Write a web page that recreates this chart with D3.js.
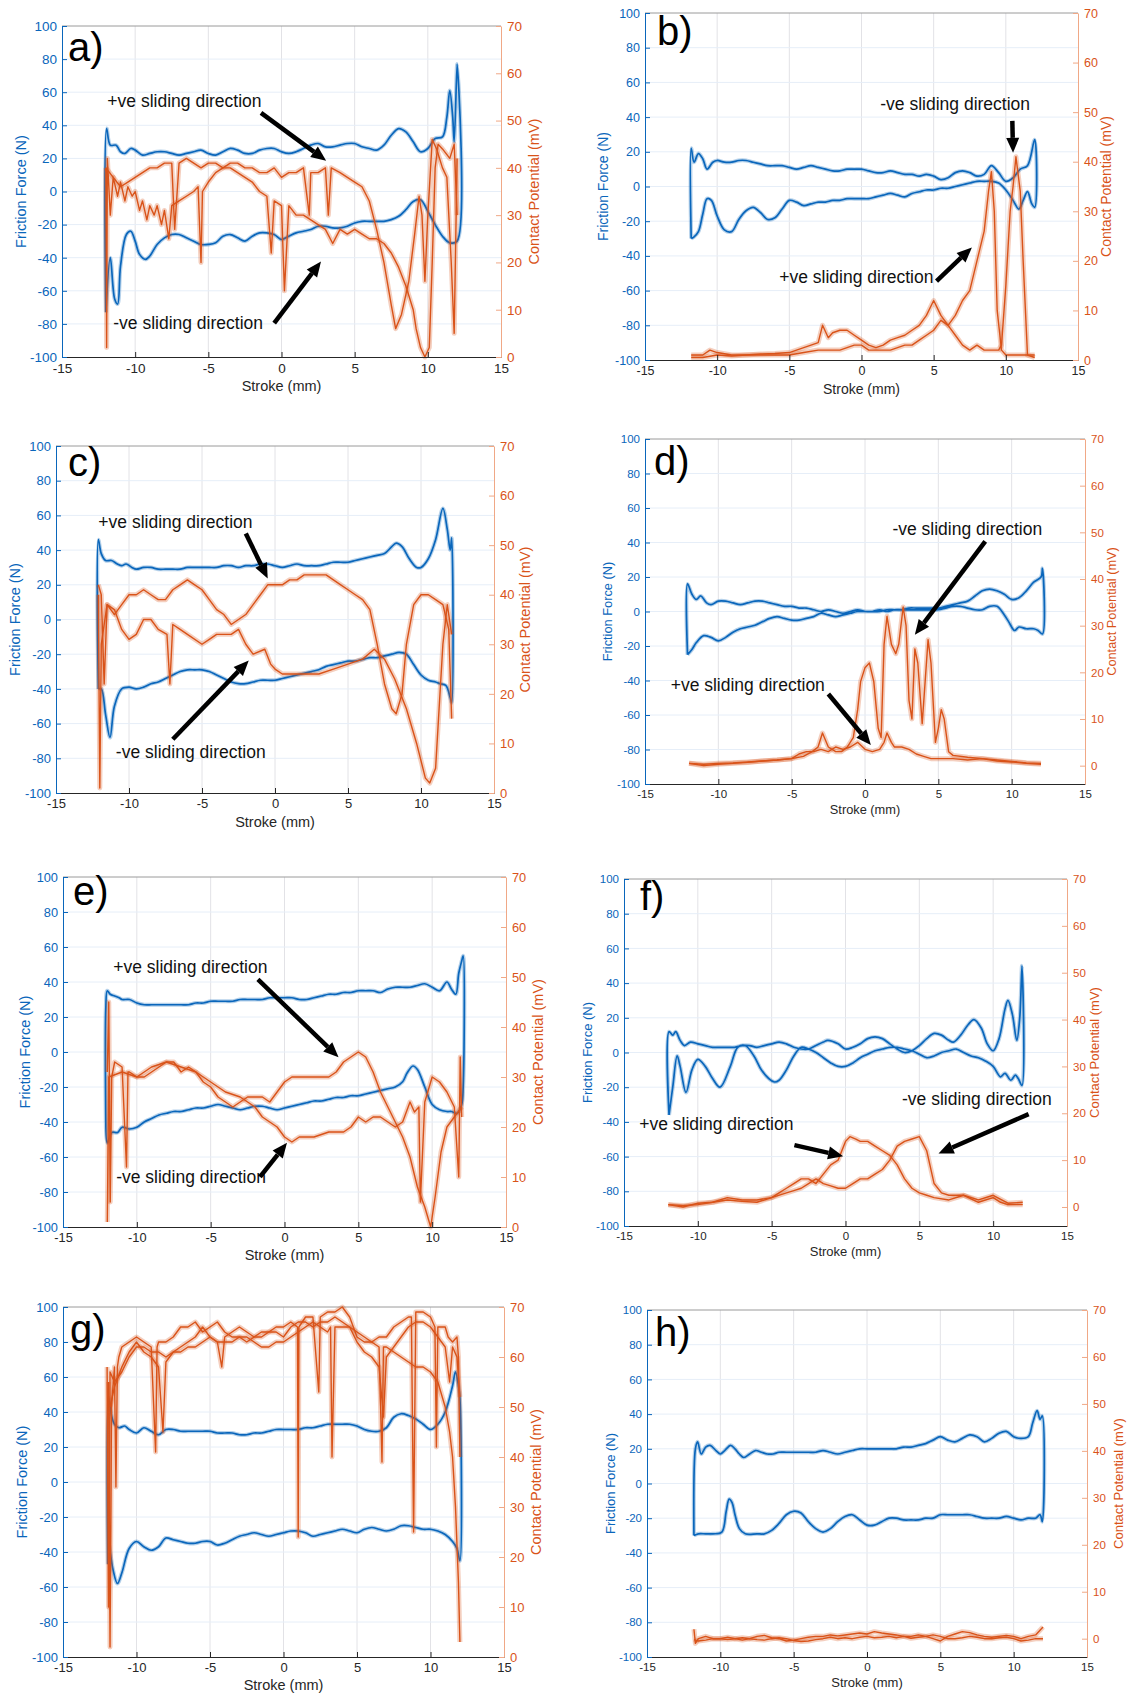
<!DOCTYPE html>
<html>
<head>
<meta charset="utf-8">
<script src="https://d3js.org/d3.v7.min.js"></script>
<style>
  body { margin: 0; background: #fff; }
  svg { display: block; font-family: 'Liberation Sans', Arial, Helvetica, sans-serif; }
</style>
</head>
<body>
<script>
// ---- shared ticks ----
const strokeTicks = [-15, -10, -5, 0, 5, 10, 15];
const forceTicks = [-100, -80, -60, -40, -20, 0, 20, 40, 60, 80, 100];
const potentialTicks = [0, 10, 20, 30, 40, 50, 60, 70];

// ---- a) ----  [stroke mm, friction N] / [stroke mm, potential mV]
const aForceFwd = [[-12,-73],[-11.95,38],[-11.7,28],[-11.3,28],[-11,24],[-10.7,23],[-10.3,26],[-10,25],[-9.5,22],[-9,23],[-8.5,24],[-8,24],[-7.5,23],[-7,22],[-6.5,23],[-6,24],[-5.5,25],[-5,23],[-4.5,22],[-4,24],[-3.5,26],[-3,25],[-2.5,23],[-2,23],[-1.5,25],[-1,26],[-0.5,26],[0,24],[0.5,23],[1,24],[1.5,26],[2,28],[2.5,29],[3,27],[3.5,27],[4,28],[4.5,29],[5,29],[5.5,27],[6,26],[6.5,25],[7,28],[7.5,34],[8,38],[8.5,36],[9,30],[9.5,24],[10,26],[10.5,32],[11,33],[11.3,45],[11.5,61],[11.7,45],[11.8,30],[12,77]];
const aForceBack = [[12,-30],[11.5,-31],[11,-27],[10.5,-20],[10,-12],[9.5,-5],[9,-6],[8.5,-11],[8,-15],[7.5,-17],[7,-18],[6.5,-18],[6,-18],[5.5,-18],[5,-19],[4.5,-21],[4,-22],[3.5,-22],[3,-21],[2.5,-21],[2,-23],[1.5,-24],[1,-25],[0.5,-27],[0,-29],[-0.5,-26],[-1,-25],[-1.5,-25],[-2,-27],[-2.5,-30],[-3,-28],[-3.5,-26],[-4,-27],[-4.5,-31],[-5,-32],[-5.5,-32],[-6,-30],[-6.5,-28],[-7,-26],[-7.5,-26],[-8,-28],[-8.5,-32],[-9,-39],[-9.3,-41],[-9.7,-38],[-10,-30],[-10.3,-24],[-10.6,-26],[-11,-45],[-11.2,-68],[-11.4,-65],[-11.7,-40],[-12,-73]];
const aPotFwd = [[-12,40],[-11.95,2],[-11.9,42],[-11.7,30],[-11.5,38],[-11.2,34],[-11,37],[-10.7,33],[-10.5,36],[-10.2,34],[-10,35],[-9.7,31],[-9.5,33],[-9.2,29],[-9,32],[-8.7,30],[-8.5,32],[-8.2,28],[-8,31],[-7.7,25],[-7.5,32],[-7,33],[-6.5,34],[-6,35],[-5.7,36],[-5.5,20],[-5.4,35],[-5,37],[-4.5,39],[-4,40],[-3.5,41],[-3,41],[-2.5,40],[-2,40],[-1.5,39],[-1,39],[-0.5,40],[0,38],[0.5,39],[1,39],[1.5,40],[1.9,30],[2,39],[2.5,39],[3,40],[3.2,30],[3.4,40],[4,39],[4.5,38],[5,37],[5.5,36],[6,33],[6.5,27],[7,20],[7.5,11],[7.8,6],[8.2,9],[8.7,16],[9.1,26],[9.4,34],[9.6,30],[9.8,16],[10,30],[10.3,46],[10.6,44],[11,40],[11.3,38],[11.6,20],[11.8,5],[12,42]];
const aPotBack = [[12,30],[11.8,45],[11.5,42],[11,44],[10.7,45],[10.5,40],[10.3,20],[10.1,2],[9.8,0],[9.5,2],[9.2,6],[9,10],[8.5,15],[8,19],[7.5,22],[7,24],[6.5,25],[6,25],[5.5,26],[5,27],[4.5,26],[4,27],[3.5,24],[3,27],[2.5,28],[2,29],[1.5,30],[1,30],[0.5,32],[0.2,14],[0,32],[-0.5,33],[-0.7,22],[-1,34],[-1.5,35],[-2,37],[-2.5,38],[-3,39],[-3.5,40],[-4,40],[-4.5,41],[-5,41],[-5.5,40],[-6,41],[-6.5,42],[-7,41],[-7.3,27],[-7.5,41],[-8,41],[-8.5,40],[-9,40],[-9.5,39],[-10,38],[-10.5,37],[-11,36],[-11.5,38],[-12,40]];

// ---- b) ----
const bForceFwd = [[-11.8,-30],[-11.8,22],[-11.6,14],[-11.3,19],[-11,16],[-10.7,10],[-10.3,14],[-10,15],[-9.5,14],[-9,14],[-8.5,15],[-8,15],[-7.5,14],[-7,13],[-6.5,12],[-6,12],[-5.5,12],[-5,11],[-4.5,10],[-4,11],[-3.5,12],[-3,11],[-2.5,10],[-2,9],[-1.5,9],[-1,10],[-0.5,10],[0,10],[0.5,9],[1,8],[1.5,8],[2,9],[2.5,8],[3,7],[3.5,7],[4,6],[4.5,7],[5,6],[5.5,4],[6,5],[6.5,8],[7,9],[7.5,8],[8,6],[8.5,7],[9,12],[9.5,8],[10,3],[10.5,5],[11,10],[11.5,12],[12,27]];
const bForceBack = [[12,-12],[11.8,-10],[11.5,-3],[11.2,-8],[10.9,-13],[10.5,-8],[10,-2],[9.5,2],[9,3],[8.5,3],[8,3],[7.5,2],[7,1],[6.5,0],[6,-1],[5.5,-1],[5,-2],[4.5,-2],[4,-3],[3.5,-4],[3,-6],[2.5,-5],[2,-4],[1.5,-5],[1,-6],[0.5,-7],[0,-7],[-0.5,-7],[-1,-7],[-1.5,-8],[-2,-8],[-2.5,-9],[-3,-9],[-3.5,-10],[-4,-11],[-4.5,-9],[-5,-8],[-5.5,-13],[-6,-18],[-6.5,-19],[-7,-15],[-7.5,-12],[-8,-14],[-8.5,-19],[-9,-26],[-9.5,-25],[-10,-17],[-10.4,-8],[-10.7,-7],[-11,-16],[-11.3,-26],[-11.6,-29],[-11.8,-30]];
const bPotFwd = [[-11.8,1],[-11,1],[-10.5,2],[-10,1.5],[-9,1],[-8,1],[-7,1.2],[-6,1.3],[-5,1.5],[-4,2.5],[-3,3.5],[-2.7,7],[-2.3,4.5],[-2,5.5],[-1.5,6],[-1,6],[-0.5,5],[0,4],[0.5,3],[1,2.5],[1.5,3],[2,4],[2.5,4.5],[3,5],[3.5,6],[4,7],[4.5,9],[5,12],[5.5,9],[6,7],[6.5,9],[7,12],[7.5,14],[8,20],[8.5,26],[8.8,34],[9,38],[9.2,30],[9.4,10],[9.7,2],[10,1],[10.5,1],[11,1],[11.5,1],[12,0.5]];
const bPotBack = [[12,1],[11.5,1],[11.2,20],[11,34],[10.7,41],[10.5,35],[10.3,30],[10,15],[9.7,3],[9.5,2],[9,2],[8.5,2],[8,3],[7.5,2],[7,3],[6.5,5],[6,7],[5.5,8],[5,6],[4.5,5],[4,4],[3.5,3],[3,3],[2.5,2.5],[2,2],[1.5,2],[1,2],[0.5,2],[0,3],[-0.5,3],[-1,2.5],[-1.5,2],[-2,2],[-3,2],[-4,1.5],[-5,1],[-6,1],[-7,1],[-8,1],[-9,0.8],[-10,1],[-11,0.5],[-11.8,0.5]];

// ---- c) ----
const cForceFwd = [[-12.1,-40],[-12.1,46],[-11.9,38],[-11.6,34],[-11.2,34],[-10.8,32],[-10.5,31],[-10.2,32],[-9.8,30],[-9.5,29],[-9,30],[-8.5,30],[-8,29],[-7.5,29],[-7,29],[-6.5,29],[-6,30],[-5.5,30],[-5,30],[-4.5,30],[-4,30],[-3.5,31],[-3,31],[-2.5,30],[-2,31],[-1.5,31],[-1,32],[-0.5,32],[0,31],[0.5,30],[1,31],[1.5,32],[2,31],[2.5,31],[3,31],[3.5,32],[4,33],[4.5,33],[5,33],[5.5,34],[6,35],[6.5,36],[7,37],[7.5,38],[8,42],[8.3,44],[8.7,42],[9.2,35],[9.7,30],[10,30],[10.5,35],[11,46],[11.5,64],[11.8,52],[12,40],[12.1,47]];
const cForceBack = [[12.1,-48],[12,-45],[11.7,-38],[11.3,-37],[11,-36],[10.5,-35],[10,-32],[9.5,-26],[9,-20],[8.5,-19],[8,-20],[7.5,-21],[7,-22],[6.5,-22],[6,-23],[5.5,-24],[5,-24],[4.5,-25],[4,-26],[3.5,-27],[3,-29],[2.5,-30],[2,-31],[1.5,-32],[1,-33],[0.5,-34],[0,-35],[-0.5,-35],[-1,-35],[-1.5,-36],[-2,-37],[-2.5,-37],[-3,-36],[-3.5,-34],[-4,-32],[-4.5,-30],[-5,-29],[-5.5,-29],[-6,-29],[-6.5,-30],[-7,-32],[-7.5,-34],[-8,-36],[-8.5,-37],[-9,-39],[-9.5,-40],[-10,-39],[-10.5,-40],[-11,-50],[-11.3,-68],[-11.6,-55],[-11.9,-40],[-12.1,-40]];
const cPotFwd = [[-12.1,42],[-11.9,40],[-11.7,22],[-11.5,38],[-11,36],[-10.5,38],[-10,40],[-9.5,40],[-9,41],[-8.5,40],[-8,39],[-7.5,39],[-7,41],[-6.5,42],[-6,43],[-5.5,42],[-5,41],[-4.5,39],[-4,37],[-3.5,36],[-3,34],[-2.5,35],[-2,36],[-1.5,38],[-1,40],[-0.5,42],[0,42],[0.5,42],[1,43],[1.5,43],[2,44],[2.5,44],[3,44],[3.5,44],[4,43],[4.5,42],[5,41],[5.5,40],[6,39],[6.5,37],[7,30],[7.5,22],[8,17],[8.3,16],[8.7,20],[9,30],[9.5,38],[10,40],[10.5,40],[11,39],[11.5,38],[11.9,33],[12.1,15]];
const cPotBack = [[12.1,32],[11.8,38],[11.5,30],[11.2,15],[11,5],[10.6,2],[10.3,3],[9.7,10],[9,17],[8.2,23],[7.5,27],[6.8,29],[6,27],[5,26],[4,25],[3,24],[2,24],[1,24],[0.5,24],[0,25],[-0.3,26],[-0.7,29],[-1.5,28],[-2,30],[-2.5,33],[-3,32],[-4,32],[-4.5,31],[-5,30],[-6,32],[-6.5,33],[-7,34],[-7.2,22],[-7.4,32],[-8,33],[-8.5,35],[-9,35],[-9.5,32],[-10,31],[-10.5,33],[-11,37],[-11.5,38],[-11.9,30],[-12,1],[-12.1,40]];

// ---- d) ----
const dForceFwd = [[-12.1,-25],[-12.1,16],[-11.8,10],[-11.5,7],[-11.2,9],[-10.8,5],[-10.5,4],[-10,6],[-9.5,6],[-9,5],[-8.5,4],[-8,5],[-7.5,6],[-7,6],[-6.5,5],[-6,4],[-5.5,3],[-5,3],[-4.5,2],[-4,2],[-3.5,1],[-3,0],[-2.5,1],[-2,0],[-1.5,-1],[-1,0],[-0.5,1],[0,0],[0.5,0],[1,0],[1.5,1],[2,1],[2.5,1],[3,2],[3.5,2],[4,2],[4.5,2],[5,2],[5.5,3],[6,4],[6.5,5],[7,6],[7.5,9],[8,12],[8.5,13],[9,12],[9.5,10],[10,7],[10.5,8],[11,12],[11.5,17],[12,20],[12.1,25]];
const dForceBack = [[12.1,-13],[11.8,-11],[11.5,-10],[11,-10],[10.5,-9],[10.2,-11],[9.8,-6],[9.5,-2],[9,3],[8.5,3],[8,1],[7.5,1],[7,2],[6.5,3],[6,3],[5.5,2],[5,1],[4.5,1],[4,1],[3.5,1],[3,1],[2.5,1],[2,1],[1.5,0],[1,1],[0.5,0],[0,0],[-0.5,0],[-1,-1],[-1.5,-2],[-2,-3],[-2.5,-2],[-3,-1],[-3.5,-3],[-4,-4],[-4.5,-5],[-5,-5],[-5.5,-4],[-6,-3],[-6.5,-4],[-7,-6],[-7.5,-8],[-8,-9],[-8.5,-10],[-9,-12],[-9.5,-15],[-10,-17],[-10.5,-15],[-11,-14],[-11.5,-18],[-11.8,-22],[-12.1,-25]];
const dPotFwd = [[-12,0.5],[-11,0],[-10,0.3],[-9,0.5],[-8,0.7],[-7,1],[-6,1.2],[-5,1.5],[-4.5,2.5],[-4,3],[-3.5,3],[-3,3.5],[-2.5,3],[-2,4],[-1.5,3.5],[-1,4],[-0.5,5],[0,3.5],[0.5,3],[1,3.5],[1.3,5],[1.5,7],[1.8,5],[2,4],[2.5,4],[3,3.5],[3.5,2.5],[4,2],[4.5,1.5],[5,1.5],[6,1.5],[7,1.2],[8,1.5],[9,1],[10,0.8],[11,0.5],[12,0.3]];
const dPotBack = [[12,0.5],[11,0.6],[10,0.9],[9,1.2],[8,1.5],[7,1.8],[6,2.2],[5.7,3],[5.4,10],[5.2,12],[5,8],[4.8,5],[4.5,22],[4.3,27],[4.1,18],[3.9,9],[3.6,22],[3.4,25],[3.2,10],[3,14],[2.8,30],[2.6,34],[2.3,26],[2.1,24],[1.8,26],[1.5,32],[1.3,26],[1.1,6],[0.9,8],[0.6,18],[0.3,22],[0,21],[-0.3,18],[-0.5,12],[-0.8,6],[-1.2,4],[-1.6,3],[-2,3],[-2.5,4],[-2.9,7],[-3.2,4],[-3.6,3],[-4.2,2],[-5,1.5],[-6,1.2],[-7,1],[-8,0.8],[-9,0.6],[-10,0.5],[-11,0.3],[-12,0.5]];

// ---- e) ----
const eForceFwd = [[-12.1,-40],[-12.1,25],[-12,35],[-11.8,33],[-11.5,32],[-11.2,31],[-11,30],[-10.5,30],[-10,28],[-9.5,27],[-9,27],[-8.5,27],[-8,27],[-7.5,27],[-7,27],[-6.5,27],[-6,28],[-5.5,28],[-5,29],[-4.5,29],[-4,29],[-3.5,29],[-3,30],[-2.5,30],[-2,30],[-1.5,30],[-1,31],[-0.5,31],[0,31],[0.5,31],[1,30],[1.5,30],[2,31],[2.5,32],[3,33],[3.5,33],[4,34],[4.5,34],[5,35],[5.5,35],[6,35],[6.5,34],[7,36],[7.5,37],[8,37],[8.5,37],[9,38],[9.5,39],[10,37],[10.5,35],[11,40],[11.3,36],[11.6,33],[11.8,45],[12,52],[12.1,55]];
const eForceBack = [[12.1,-20],[12,-30],[11.7,-35],[11.3,-34],[11,-34],[10.5,-33],[10,-30],[9.5,-20],[9,-10],[8.7,-8],[8.3,-12],[8,-17],[7.5,-20],[7,-21],[6.5,-22],[6,-23],[5.5,-24],[5,-25],[4.5,-25],[4,-26],[3.5,-26],[3,-27],[2.5,-28],[2,-28],[1.5,-29],[1,-30],[0.5,-31],[0,-32],[-0.5,-33],[-1,-32],[-1.5,-31],[-2,-31],[-2.5,-32],[-3,-33],[-3.5,-32],[-4,-31],[-4.5,-30],[-5,-31],[-5.5,-32],[-6,-32],[-6.5,-33],[-7,-34],[-7.5,-34],[-8,-35],[-8.5,-36],[-9,-38],[-9.5,-40],[-10,-43],[-10.5,-44],[-11,-43],[-11.3,-46],[-11.7,-46],[-12,-52],[-12.1,-40]];
const ePotFwd = [[-12,31],[-11.9,45],[-11.8,5],[-11.7,30],[-11.5,33],[-11,32],[-10.7,12],[-10.6,31],[-10.5,31],[-10,30],[-9.5,30],[-9,31],[-8.5,32],[-8,33],[-7.5,33],[-7,31],[-6.5,32],[-6,31],[-5.5,29],[-5,28],[-4.5,26],[-4,25],[-3.5,24],[-3,25],[-2.5,26],[-2,26],[-1.5,26],[-1,25],[-0.5,27],[0,29],[0.5,30],[1,30],[1.5,30],[2,30],[2.5,30],[3,30],[3.5,31],[4,33],[4.5,34],[5,35],[5.5,34],[6,31],[6.5,27],[7,24],[7.5,21],[8,18],[8.5,14],[9,8],[9.5,4],[9.9,0],[10.2,6],[10.6,15],[11,20],[11.5,22],[12,24]];
const ePotBack = [[12,22],[11.9,34],[11.8,10],[11.5,24],[11,27],[10.5,29],[10,30],[9.5,25],[9.2,5],[9.1,24],[8.8,23],[8.5,25],[8,21],[7.5,20],[7,21],[6.5,22],[6,22],[5.5,21],[5,22],[4.5,20],[4,19],[3,19],[2,18],[1,18],[0.5,17],[0,18],[-0.5,20],[-1,21],[-1.5,22],[-2,24],[-2.5,25],[-3,26],[-4,27],[-5,29],[-5.5,30],[-6,31],[-7,32],[-8,33],[-9,32],[-10,30],[-11,31],[-11.9,30],[-12,1]];

// ---- f) ----
const fForceFwd = [[-11.95,-36],[-11.95,12],[-11.7,10],[-11.5,12],[-11.2,7],[-10.9,4],[-10.5,6],[-10,5],[-9.5,4],[-9,3],[-8.5,3],[-8,3],[-7.5,3],[-7,4],[-6.5,4],[-6,3],[-5.5,4],[-5,5],[-4.5,6],[-4,5],[-3.5,3],[-3,2],[-2.5,2],[-2,4],[-1.5,6],[-1.2,7],[-0.5,5],[0,2],[0.5,3],[1,5],[1.5,8],[2,9],[2.5,8],[3,5],[3.5,2],[4,0],[4.5,1],[5,4],[5.5,8],[6,11],[6.5,10],[7,7],[7.3,6],[7.8,10],[8.3,16],[8.7,19],[9.2,14],[9.6,5],[10,1],[10.4,8],[10.8,25],[11,30],[11.3,22],[11.6,7],[11.8,20],[11.95,50]];
const fForceBack = [[11.95,-19],[11.7,-15],[11.5,-13],[11.2,-16],[10.8,-12],[10.5,-14],[10,-8],[9.5,-5],[9,-3],[8.5,-2],[8,0],[7.5,2],[7,1],[6.5,0],[6,-2],[5.5,-3],[5,-1],[4.5,1],[4,2],[3.5,3],[3,3],[2.5,2],[2,1],[1.5,-1],[1,-3],[0.5,-6],[0,-8],[-0.5,-8],[-1,-6],[-1.5,-3],[-2,0],[-2.5,2],[-3,3],[-3.5,-2],[-4,-10],[-4.5,-16],[-4.8,-17],[-5.2,-15],[-5.7,-10],[-6.2,-2],[-6.8,4],[-7.3,3],[-7.8,-8],[-8.5,-20],[-9,-15],[-9.5,-8],[-10,-4],[-10.4,-10],[-10.8,-23],[-11.2,-8],[-11.4,-2],[-11.7,-20],[-11.95,-36]];
const fPotFwd = [[-12,0.5],[-11,0],[-10,0.8],[-9,1],[-8,2],[-7,1.5],[-6,1.5],[-5,2],[-4.5,3],[-4,4],[-3.5,5],[-3,6],[-2.5,6],[-2,5],[-1.5,7],[-1,9],[-0.5,10],[0,14],[0.3,15],[0.7,14.5],[1,14],[1.5,14],[2,13],[2.5,12],[3,11],[3.5,9],[4,6],[4.5,4],[5,3],[5.5,2.5],[6,2],[7,1.5],[8,2.5],[9,1],[10,2],[10.5,1],[11,0.5],[12,0.5]];
const fPotBack = [[12,1],[11,0.8],[10,2.5],[9,1.5],[8,2.5],[7,2.5],[6.5,3],[6,5],[5.5,12],[5,15],[4.5,14.5],[4,14],[3.5,13],[3,10],[2.5,8],[2,7],[1.5,6],[1,6],[0.5,5],[0,4],[-0.5,4],[-1,4.5],[-1.5,5],[-2,6],[-2.5,5],[-3,4],[-3.5,3.5],[-4,3],[-5,2],[-6,1],[-7,1.2],[-8,1.5],[-9,1],[-10,0.5],[-11,0.3],[-12,0.5]];

// ---- g) ----
const gForceFwd = [[-11.95,-47],[-11.9,48],[-11.7,38],[-11.5,33],[-11.2,31],[-10.8,32],[-10.5,30],[-10,28],[-9.5,31],[-9,29],[-8.5,27],[-8,30],[-7.5,30],[-7,29],[-6.5,29],[-6,29],[-5.5,29],[-5,29],[-4.5,28],[-4,28],[-3.5,28],[-3,27],[-2.5,27],[-2,28],[-1.5,28],[-1,29],[-0.5,30],[0,30],[0.5,30],[1,30],[1.5,31],[2,31],[2.5,32],[3,33],[3.5,33],[4,33],[4.5,33],[5,32],[5.5,30],[6,29],[6.5,29],[7,31],[7.5,37],[8,39],[8.5,38],[9,36],[9.5,33],[10,30],[10.5,33],[11,40],[11.5,55],[11.7,63],[11.9,55],[12,48]];
const gForceBack = [[12,-45],[11.8,-38],[11.5,-34],[11,-30],[10.5,-28],[10,-27],[9.5,-27],[9,-26],[8.5,-25],[8,-25],[7.5,-27],[7,-28],[6.5,-27],[6,-26],[5.5,-27],[5,-29],[4.5,-28],[4,-27],[3.5,-28],[3,-29],[2.5,-30],[2,-31],[1.5,-29],[1,-28],[0.5,-28],[0,-29],[-0.5,-30],[-1,-31],[-1.5,-30],[-2,-29],[-2.5,-30],[-3,-31],[-3.5,-33],[-4,-35],[-4.5,-36],[-5,-34],[-5.5,-34],[-6,-35],[-6.5,-35],[-7,-34],[-7.5,-33],[-8,-32],[-8.5,-37],[-9,-39],[-9.5,-37],[-10,-34],[-10.5,-38],[-11,-52],[-11.3,-58],[-11.6,-50],[-11.9,-35],[-11.95,-47]];
const gPotFwd = [[-11.9,55],[-11.8,2],[-11.7,50],[-11.5,58],[-11.4,34],[-11.3,58],[-11.2,60],[-11,62],[-10.5,63],[-10,64],[-9.5,63],[-9,62],[-8.7,41],[-8.6,62],[-8.5,63],[-8,63],[-7.5,64],[-7,66],[-6.5,66],[-6,67],[-5.5,65],[-5,66],[-4.5,67],[-4,65],[-3.5,64],[-3,64],[-2.5,63],[-2,64],[-1.5,65],[-1,65],[-0.5,66],[0,66],[0.5,67],[0.95,66],[1,24],[1.05,66],[1.5,68],[2,68],[2.4,53],[2.5,68],[3,69],[3.5,69],[4,70],[4.5,68],[5,64],[5.5,63],[6,63],[6.5,62],[6.7,39],[6.8,62],[7,62],[7.5,61],[8,60],[8.5,59],[9,58],[9.5,58],[10,57],[10.5,55],[11,50],[11.3,45],[11.5,40],[11.7,30],[11.9,15],[12,3]];
const gPotMid = [[-11.8,50],[-11.5,54],[-11,58],[-10.5,61],[-10,63],[-9.5,61],[-9,60],[-8.5,58],[-8.2,45],[-8,59],[-7.5,61],[-7,62],[-6.5,63],[-6,64],[-5.5,66],[-5,64],[-4.5,63],[-4.2,58],[-4,64],[-3.5,65],[-3,66],[-2.5,65],[-2,64],[-1.5,64],[-1,65],[-0.5,65],[0,64],[0.5,66],[1,67],[1.5,67],[2,66],[2.5,67],[3,67],[3.5,68],[4,67],[4.5,66],[5,63],[5.5,61],[6,60],[6.5,58],[6.8,48],[7,60],[7.5,62],[8,64],[8.5,66],[9,67],[9.5,67],[10,66],[10.5,64],[11,62],[11.3,55],[11.5,62],[11.8,60],[12,52]];
const gPotBack = [[12,40],[11.9,60],[11.8,64],[11.5,63],[11.2,64],[11,66],[10.5,66],[10.4,42],[10.3,66],[10,68],[9.5,69],[9,69],[8.85,25],[8.7,68],[8.5,68],[8,67],[7.5,66],[7,64],[6.5,64],[6,63],[5.5,64],[5,65],[4.5,66],[4,66],[3.5,66],[3.3,40],[3.2,66],[3,65],[2.5,66],[2,67],[1.5,66],[1,65],[0.5,64],[0,63],[-0.5,63],[-1,62],[-1.5,62],[-2,63],[-2.5,64],[-3,64],[-3.5,63],[-4,63],[-4.5,63],[-5,64],[-5.5,63],[-6,62],[-6.5,62],[-7,61],[-7.5,61],[-8,60],[-8.5,61],[-9,61],[-9.5,62],[-10,62],[-10.5,60],[-11,57],[-11.5,55],[-11.8,57],[-11.9,10],[-12,58]];

// ---- h) ----
const hForceFwd = [[-11.8,-30],[-11.7,20],[-11.55,24],[-11.3,17],[-11,21],[-10.7,22],[-10.3,19],[-10,17],[-9.7,19],[-9.3,22],[-9,20],[-8.7,17],[-8.4,15],[-8,17],[-7.6,19],[-7.2,18],[-6.8,17],[-6.4,17],[-6,18],[-5.5,18],[-5,18],[-4.5,18],[-4,18],[-3.5,18],[-3,19],[-2.5,18],[-2,17],[-1.5,18],[-1,19],[-0.5,20],[0,20],[0.5,20],[1,20],[1.5,20],[2,20],[2.5,21],[3,21],[3.5,22],[4,23],[4.5,25],[5,27],[5.5,25],[6,24],[6.5,26],[7,28],[7.5,27],[8,24],[8.5,26],[9,29],[9.5,30],[10,27],[10.5,26],[11,27],[11.3,35],[11.6,42],[11.8,37],[11.95,39]];
const hForceBack = [[11.95,-22],[11.8,-18],[11.5,-20],[11,-20],[10.5,-21],[10,-20],[9.5,-19],[9,-20],[8.5,-20],[8,-20],[7.5,-19],[7,-18],[6.5,-18],[6,-18],[5.5,-18],[5,-18],[4.5,-20],[4,-20],[3.5,-21],[3,-21],[2.5,-21],[2,-20],[1.5,-20],[1,-22],[0.5,-24],[0,-24],[-0.5,-21],[-1,-18],[-1.5,-19],[-2,-22],[-2.5,-26],[-3,-28],[-3.5,-26],[-4,-22],[-4.5,-17],[-5,-16],[-5.5,-18],[-6,-23],[-6.5,-27],[-7,-29],[-7.5,-29],[-8.3,-29],[-8.7,-26],[-9,-18],[-9.2,-11],[-9.4,-9],[-9.6,-16],[-9.9,-28],[-10.5,-29],[-11,-29],[-11.5,-29],[-11.8,-30]];
const hPotFwd = [[-11.8,2],[-11.7,-1],[-11.5,0],[-11,0.5],[-10.5,0],[-10,0],[-9.5,0.3],[-9,0],[-8.5,0.2],[-8,0],[-7.5,0.5],[-7,0.7],[-6.5,0.2],[-6,0],[-5.5,-0.5],[-5,-0.3],[-4.5,0],[-4,0.3],[-3.5,0.5],[-3,0.5],[-2.5,0.8],[-2,0.6],[-1.5,0.8],[-1,1],[-0.5,1.2],[0,1],[0.5,1.5],[1,1.2],[1.5,1],[2,0.8],[2.5,0.5],[3,0.5],[3.5,0.8],[4,0.5],[4.5,0],[5,-0.5],[5.5,0.5],[6,1],[6.5,1.5],[7,1.3],[7.5,0.8],[8,0.5],[8.5,0.3],[9,0.5],[9.5,0.7],[10,0.5],[10.5,0],[11,0.5],[11.5,0.8],[12,2.5]];
const hPotBack = [[12,0],[11.5,0],[11,-0.3],[10.5,-0.5],[10,0],[9.5,0.3],[9,0.2],[8.5,0],[8,0],[7.5,0.3],[7,0.5],[6.5,0.2],[6,0],[5.5,0],[5,0.5],[4.5,0.8],[4,0.5],[3.5,0.3],[3,0.1],[2.5,0.5],[2,0.2],[1.5,0.5],[1,0.3],[0.5,0.2],[0,0.5],[-0.5,0.3],[-1,0],[-1.5,0.2],[-2,0],[-2.5,0.3],[-3,0],[-3.5,-0.2],[-4,-0.5],[-4.5,-0.6],[-5,-0.4],[-5.5,0],[-6,0.2],[-6.5,0],[-7,-0.3],[-7.5,-0.2],[-8,0],[-8.5,-0.3],[-9,0],[-9.5,-0.2],[-10,0],[-10.5,0],[-11,-0.3],[-11.5,-0.5],[-11.8,-0.2]];

// ---- layout of the eight panels ----
const panels = [
  { tag: 'a)', force: [aForceFwd, aForceBack], pot: [aPotFwd, aPotBack], potMin: 0,
    box: { l: 62, r: 501, t: 26, b: 357 }, tickFs: 13.5, labFs: 14.5, tagPos: [6, 35],
    yLab: 41, pLab: 33, xLab: 34,
    notes: [
      { text: '+ve sliding direction', at: [-11.9, 51], from: [-1.4, 47.5], to: [3.05, 18.6] },
      { text: '-ve sliding direction', at: [-11.5, -83], from: [-0.5, -79.5], to: [2.7, -42.3] }
    ] },
  { tag: 'b)', force: [bForceFwd, bForceBack], pot: [bPotFwd, bPotBack], potMin: 0,
    box: { l: 645, r: 1078, t: 13, b: 360 }, tickFs: 12.5, labFs: 14, tagPos: [12, 32],
    yLab: 42, pLab: 28, xLab: 34,
    notes: [
      { text: '-ve sliding direction', at: [1.3, 44.3], from: [10.45, 37.8], to: [10.5, 19.4] },
      { text: '+ve sliding direction', at: [-5.7, -55.9], from: [5.2, -54.5], to: [7.65, -35.1] }
    ] },
  { tag: 'c)', force: [cForceFwd, cForceBack], pot: [cPotFwd, cPotBack], potMin: 0,
    box: { l: 56, r: 494, t: 446, b: 793 }, tickFs: 13, labFs: 14.5, tagPos: [12, 30],
    yLab: 41, pLab: 31, xLab: 34,
    notes: [
      { text: '+ve sliding direction', at: [-12.1, 53], from: [-2.0, 49.6], to: [-0.5, 23.7] },
      { text: '-ve sliding direction', at: [-10.9, -79.9], from: [-7.0, -69], to: [-1.8, -23.7] }
    ] },
  { tag: 'd)', force: [dForceFwd, dForceBack], pot: [dPotFwd, dPotBack], potMin: -3.93,
    box: { l: 645, r: 1085, t: 439, b: 784 }, tickFs: 11.5, labFs: 12.8, tagPos: [9, 36],
    yLab: 38, pLab: 26, xLab: 30,
    notes: [
      { text: '-ve sliding direction', at: [1.87, 44.5], from: [8.2, 40.6], to: [3.4, -13.5] },
      { text: '+ve sliding direction', at: [-13.25, -45.8], from: [-2.5, -47.8], to: [0.4, -77.4] }
    ] },
  { tag: 'e)', force: [eForceFwd, eForceBack], pot: [ePotFwd, ePotBack], potMin: 0,
    box: { l: 63, r: 506, t: 877, b: 1227 }, tickFs: 12.8, labFs: 14.5, tagPos: [10, 28],
    yLab: 38, pLab: 32, xLab: 33,
    notes: [
      { text: '+ve sliding direction', at: [-11.6, 45], from: [-1.8, 41.5], to: [3.66, -3] },
      { text: '-ve sliding direction', at: [-11.4, -74.8], from: [-1.66, -71.4], to: [0.17, -51.9] }
    ] },
  { tag: 'f)', force: [fForceFwd, fForceBack], pot: [fPotFwd, fPotBack], potMin: -4.06,
    box: { l: 624, r: 1067, t: 879, b: 1226 }, tickFs: 11.5, labFs: 13, tagPos: [16, 31],
    yLab: 37, pLab: 27, xLab: 30,
    notes: [
      { text: '-ve sliding direction', at: [3.83, -30.3], from: [12.4, -35.5], to: [6.3, -58.2] },
      { text: '+ve sliding direction', at: [-13.97, -44.8], from: [-3.46, -53.4], to: [-0.16, -59.8] }
    ] },
  { tag: 'g)', force: [gForceFwd, gForceBack], pot: [gPotFwd, gPotMid, gPotBack], potMin: 0,
    box: { l: 63, r: 504, t: 1307, b: 1657 }, tickFs: 13, labFs: 14.5, tagPos: [7, 36],
    yLab: 41, pLab: 32, xLab: 33,
    notes: [] },
  { tag: 'h)', force: [hForceFwd, hForceBack], pot: [hPotFwd, hPotBack], potMin: -3.9,
    box: { l: 647, r: 1087, t: 1310, b: 1657 }, tickFs: 11.5, labFs: 13, tagPos: [8, 36],
    yLab: 37, pLab: 31, xLab: 30,
    notes: [] }
];

const blue = '#0a66bb', orange = '#D95319', dark = '#262626';

const svg = d3.select('body').append('svg')
  .attr('width', 1129).attr('height', 1697);

panels.forEach(drawPanel);

function drawPanel(p) {
  const g = svg.append('g');
  const x = d3.scaleLinear().domain([-15, 15]).range([p.box.l, p.box.r]);
  const yF = d3.scaleLinear().domain([-100, 100]).range([p.box.b, p.box.t]);
  const yP = d3.scaleLinear().domain([p.potMin, 70]).range([p.box.b, p.box.t]);
  const plain = d => String(d);

  //Grid
  g.append('g').selectAll('line').data(strokeTicks.slice(1, -1)).join('line')
    .attr('x1', d => x(d)).attr('x2', d => x(d))
    .attr('y1', p.box.t).attr('y2', p.box.b)
    .attr('stroke', '#e2e2e6').attr('stroke-width', 1);
  g.append('g').selectAll('line').data(forceTicks.slice(1, -1)).join('line')
    .attr('x1', p.box.l).attr('x2', p.box.r)
    .attr('y1', d => yF(d)).attr('y2', d => yF(d))
    .attr('stroke', '#e6eef8').attr('stroke-width', 1);

  //Top border
  g.append('line')
    .attr('x1', p.box.l).attr('x2', p.box.r)
    .attr('y1', p.box.t).attr('y2', p.box.t)
    .attr('stroke', '#9a9a9a').attr('stroke-width', 1);

  //Friction loops
  const fLine = d3.line()
    .x(d => x(d[0])).y(d => yF(d[1]))
    .curve(d3.curveCatmullRom.alpha(0.5));
  const loop = p.force[0].concat(p.force[1]);
  g.append('path')
    .attr('d', fLine(loop))
    .attr('fill', 'none').attr('stroke', blue)
    .attr('stroke-width', 4).attr('stroke-opacity', 0.3);
  g.append('path')
    .attr('d', fLine(loop))
    .attr('fill', 'none').attr('stroke', blue)
    .attr('stroke-width', 1.7);

  //Contact potential
  const pLine = d3.line().x(d => x(d[0])).y(d => yP(d[1]));
  p.pot.forEach(s => {
    g.append('path').attr('d', pLine(s))
      .attr('fill', 'none').attr('stroke', orange)
      .attr('stroke-width', 5).attr('stroke-opacity', 0.28)
      .attr('stroke-linejoin', 'round');
    g.append('path').attr('d', pLine(s))
      .attr('fill', 'none').attr('stroke', orange)
      .attr('stroke-width', 1.4).attr('stroke-linejoin', 'round');
  });

  //X axis
  const xa = g.append('g')
    .attr('transform', `translate(0, ${p.box.b})`)
    .call(d3.axisBottom(x).tickValues(strokeTicks).tickFormat(plain)
      .tickSizeInner(-5).tickSizeOuter(0).tickPadding(6));
  xa.select('.domain').attr('stroke', dark);
  xa.selectAll('.tick line').attr('stroke', dark);
  xa.selectAll('text').attr('fill', dark).style('font-size', p.tickFs + 'px')
    .style('font-family', 'inherit');

  //Left axis
  const ya = g.append('g')
    .attr('transform', `translate(${p.box.l}, 0)`)
    .call(d3.axisLeft(yF).tickValues(forceTicks).tickFormat(plain)
      .tickSizeInner(-5).tickSizeOuter(0).tickPadding(5));
  ya.select('.domain').attr('stroke', blue);
  ya.selectAll('.tick line').attr('stroke', blue);
  ya.selectAll('text').attr('fill', blue).style('font-size', p.tickFs + 'px')
    .style('font-family', 'inherit');

  //Right axis
  const pa = g.append('g')
    .attr('transform', `translate(${p.box.r}, 0)`)
    .call(d3.axisRight(yP).tickValues(potentialTicks).tickFormat(plain)
      .tickSizeInner(-5).tickSizeOuter(0).tickPadding(6));
  pa.select('.domain').attr('stroke', '#f0a886');
  pa.selectAll('.tick line').attr('stroke', '#f0a886');
  pa.selectAll('text').attr('fill', orange).style('font-size', p.tickFs + 'px')
    .style('font-family', 'inherit');

  //Axis titles
  const midY = (p.box.t + p.box.b) / 2;
  g.append('text')
    .attr('transform', `translate(${p.box.l - p.yLab}, ${midY}) rotate(-90)`)
    .attr('text-anchor', 'middle').attr('dominant-baseline', 'central')
    .attr('fill', blue).style('font-size', p.labFs + 'px')
    .text('Friction Force (N)');
  g.append('text')
    .attr('transform', `translate(${p.box.r + p.pLab}, ${midY}) rotate(-90)`)
    .attr('text-anchor', 'middle').attr('dominant-baseline', 'central')
    .attr('fill', orange).style('font-size', p.labFs + 'px')
    .text('Contact Potential (mV)');
  g.append('text')
    .attr('x', (p.box.l + p.box.r) / 2).attr('y', p.box.b + p.xLab)
    .attr('text-anchor', 'middle')
    .attr('fill', dark).style('font-size', p.labFs + 'px')
    .text('Stroke (mm)');

  //Panel tag
  g.append('text')
    .attr('x', p.box.l + p.tagPos[0]).attr('y', p.box.t + p.tagPos[1])
    .attr('fill', '#000').style('font-size', '40px')
    .text(p.tag);

  //Annotations
  p.notes.forEach(n => {
    g.append('text')
      .attr('x', x(n.at[0])).attr('y', yF(n.at[1]))
      .attr('fill', '#111').style('font-size', '17.5px')
      .text(n.text);
    const x1 = x(n.from[0]), y1 = yF(n.from[1]);
    const x2 = x(n.to[0]), y2 = yF(n.to[1]);
    const ang = Math.atan2(y2 - y1, x2 - x1);
    const headL = 15, headW = 6.5;
    const bx = x2 - headL * Math.cos(ang), by = y2 - headL * Math.sin(ang);
    g.append('line')
      .attr('x1', x1).attr('y1', y1).attr('x2', bx).attr('y2', by)
      .attr('stroke', '#000').attr('stroke-width', 4.5);
    const px = -Math.sin(ang) * headW, py = Math.cos(ang) * headW;
    g.append('path')
      .attr('d', `M${x2},${y2}L${bx + px},${by + py}L${bx - px},${by - py}Z`)
      .attr('fill', '#000');
  });
}
</script>
</body>
</html>
